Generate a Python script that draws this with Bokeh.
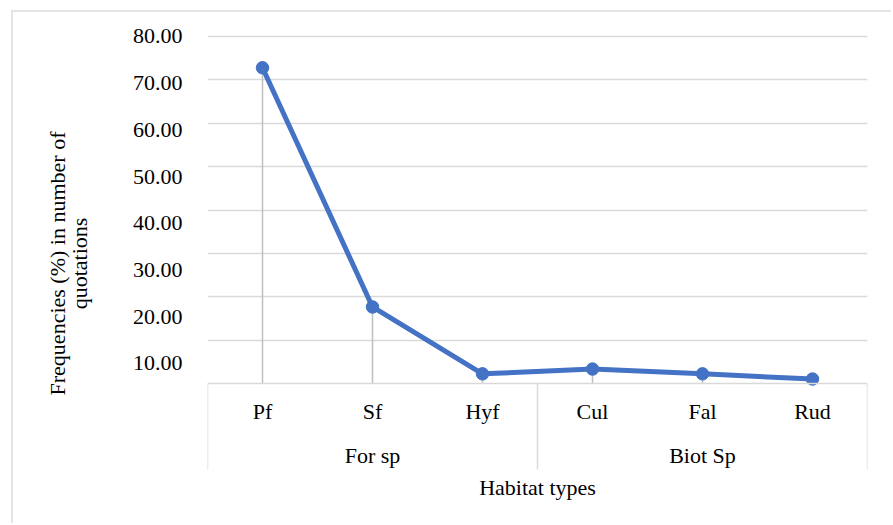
from bokeh.plotting import figure
from bokeh.models import (FactorRange, Range1d, LinearAxis, CategoricalAxis, FixedTicker,
                          PrintfTickFormatter, ColumnDataSource)
from bokeh.embed import file_html
from bokeh.resources import INLINE

# ---- data ----
categories = ["Pf", "Sf", "Hyf", "Cul", "Fal", "Rud"]
groups = ["For sp", "For sp", "For sp", "Biot Sp", "Biot Sp", "Biot Sp"]
frequencies = [72.8, 17.7, 2.3, 3.4, 2.3, 1.1]
y_tick_values = [10, 20, 30, 40, 50, 60, 70, 80]
x_title = "Habitat types"
y_title = "Frequencies (%) in number of\nquotations"

FONT = "Liberation Serif"
FS = "22px"
GRID = "#d9d9d9"
BLUE = "#4472C4"

group_names = list(dict.fromkeys(groups))
bounds = [0]
for g in group_names:
    bounds.append(bounds[-1] + groups.count(g))

p = figure(
    x_range=FactorRange(factors=categories, range_padding=0, factor_padding=0),
    y_range=Range1d(-28.03, 83.455),
    width=880, height=513,
    min_border_left=194, min_border_right=26, min_border_top=9, min_border_bottom=20,
    output_backend="svg", toolbar_location=None,
)
p.styles = {"margin-left": "11px", "margin-top": "10px",
            "border-left": "2px solid #e4e4e4", "border-top": "2px solid #e4e4e4"}
p.outline_line_color = None
p.background_fill_color = "white"
p.border_fill_color = "white"

# grid
p.xgrid.visible = False
p.ygrid.ticker = FixedTicker(ticks=y_tick_values)
p.ygrid.grid_line_color = GRID
p.ygrid.grid_line_width = 1.5
p.yaxis.visible = False

# y labels axis
p.extra_y_ranges = {"lab": Range1d(-20.41, 83.211)}
yax = LinearAxis(y_range_name="lab", ticker=FixedTicker(ticks=y_tick_values),
                 formatter=PrintfTickFormatter(format="%.2f"))
yax.axis_line_color = None
yax.major_tick_line_color = None
yax.major_tick_out = 0
yax.major_tick_in = 0
yax.minor_tick_line_color = None
yax.minor_tick_out = 0
yax.major_label_standoff = 25
yax.major_label_text_font = FONT
yax.major_label_text_font_size = FS
yax.major_label_text_color = "black"
yax.axis_label = y_title
yax.axis_label_text_font = FONT
yax.axis_label_text_font_size = FS
yax.axis_label_text_font_style = "normal"
yax.axis_label_text_color = "black"
yax.axis_label_text_line_height = 0.9
yax.axis_label_standoff = 38
p.add_layout(yax, "left")

# category axis
xax = p.xaxis[0]
xax.fixed_location = 0
xax.axis_line_color = GRID
xax.axis_line_width = 1.5
xax.major_tick_line_color = None
xax.major_tick_out = 0
xax.major_tick_in = 0
xax.minor_tick_line_color = None
xax.major_label_standoff = 15
xax.major_label_text_font = FONT
xax.major_label_text_font_size = FS
xax.major_label_text_color = "black"

# group axis
p.extra_x_ranges = {"grp": FactorRange(factors=group_names, range_padding=0, factor_padding=0)}
gax = CategoricalAxis(x_range_name="grp", fixed_location=0)
gax.axis_line_color = None
gax.major_tick_line_color = None
gax.major_tick_out = 0
gax.major_tick_in = 0
gax.minor_tick_line_color = None
gax.major_label_standoff = 59
gax.major_label_text_font = FONT
gax.major_label_text_font_size = FS
gax.major_label_text_color = "black"
gax.axis_label = x_title
gax.axis_label_standoff = 4
gax.axis_label_text_font = FONT
gax.axis_label_text_font_size = FS
gax.axis_label_text_font_style = "normal"
gax.axis_label_text_color = "black"
p.add_layout(gax, "below")

# box lines of the category axis
p.segment(x0=bounds, y0=[0] * len(bounds), x1=bounds, y1=[-19.75] * len(bounds),
          line_color=GRID, line_width=1.5)

src = ColumnDataSource(dict(cat=categories, freq=frequencies, zero=[0] * len(categories)))
# drop lines
p.segment(x0="cat", y0="zero", x1="cat", y1="freq", source=src, line_color="#bfbfbf", line_width=1.5)
# series
p.line(x="cat", y="freq", source=src, line_color=BLUE, line_width=5)
p.scatter(x="cat", y="freq", source=src, size=12.5, fill_color=BLUE, line_color=BLUE)

open("out.html", "w").write(file_html(p, INLINE))
